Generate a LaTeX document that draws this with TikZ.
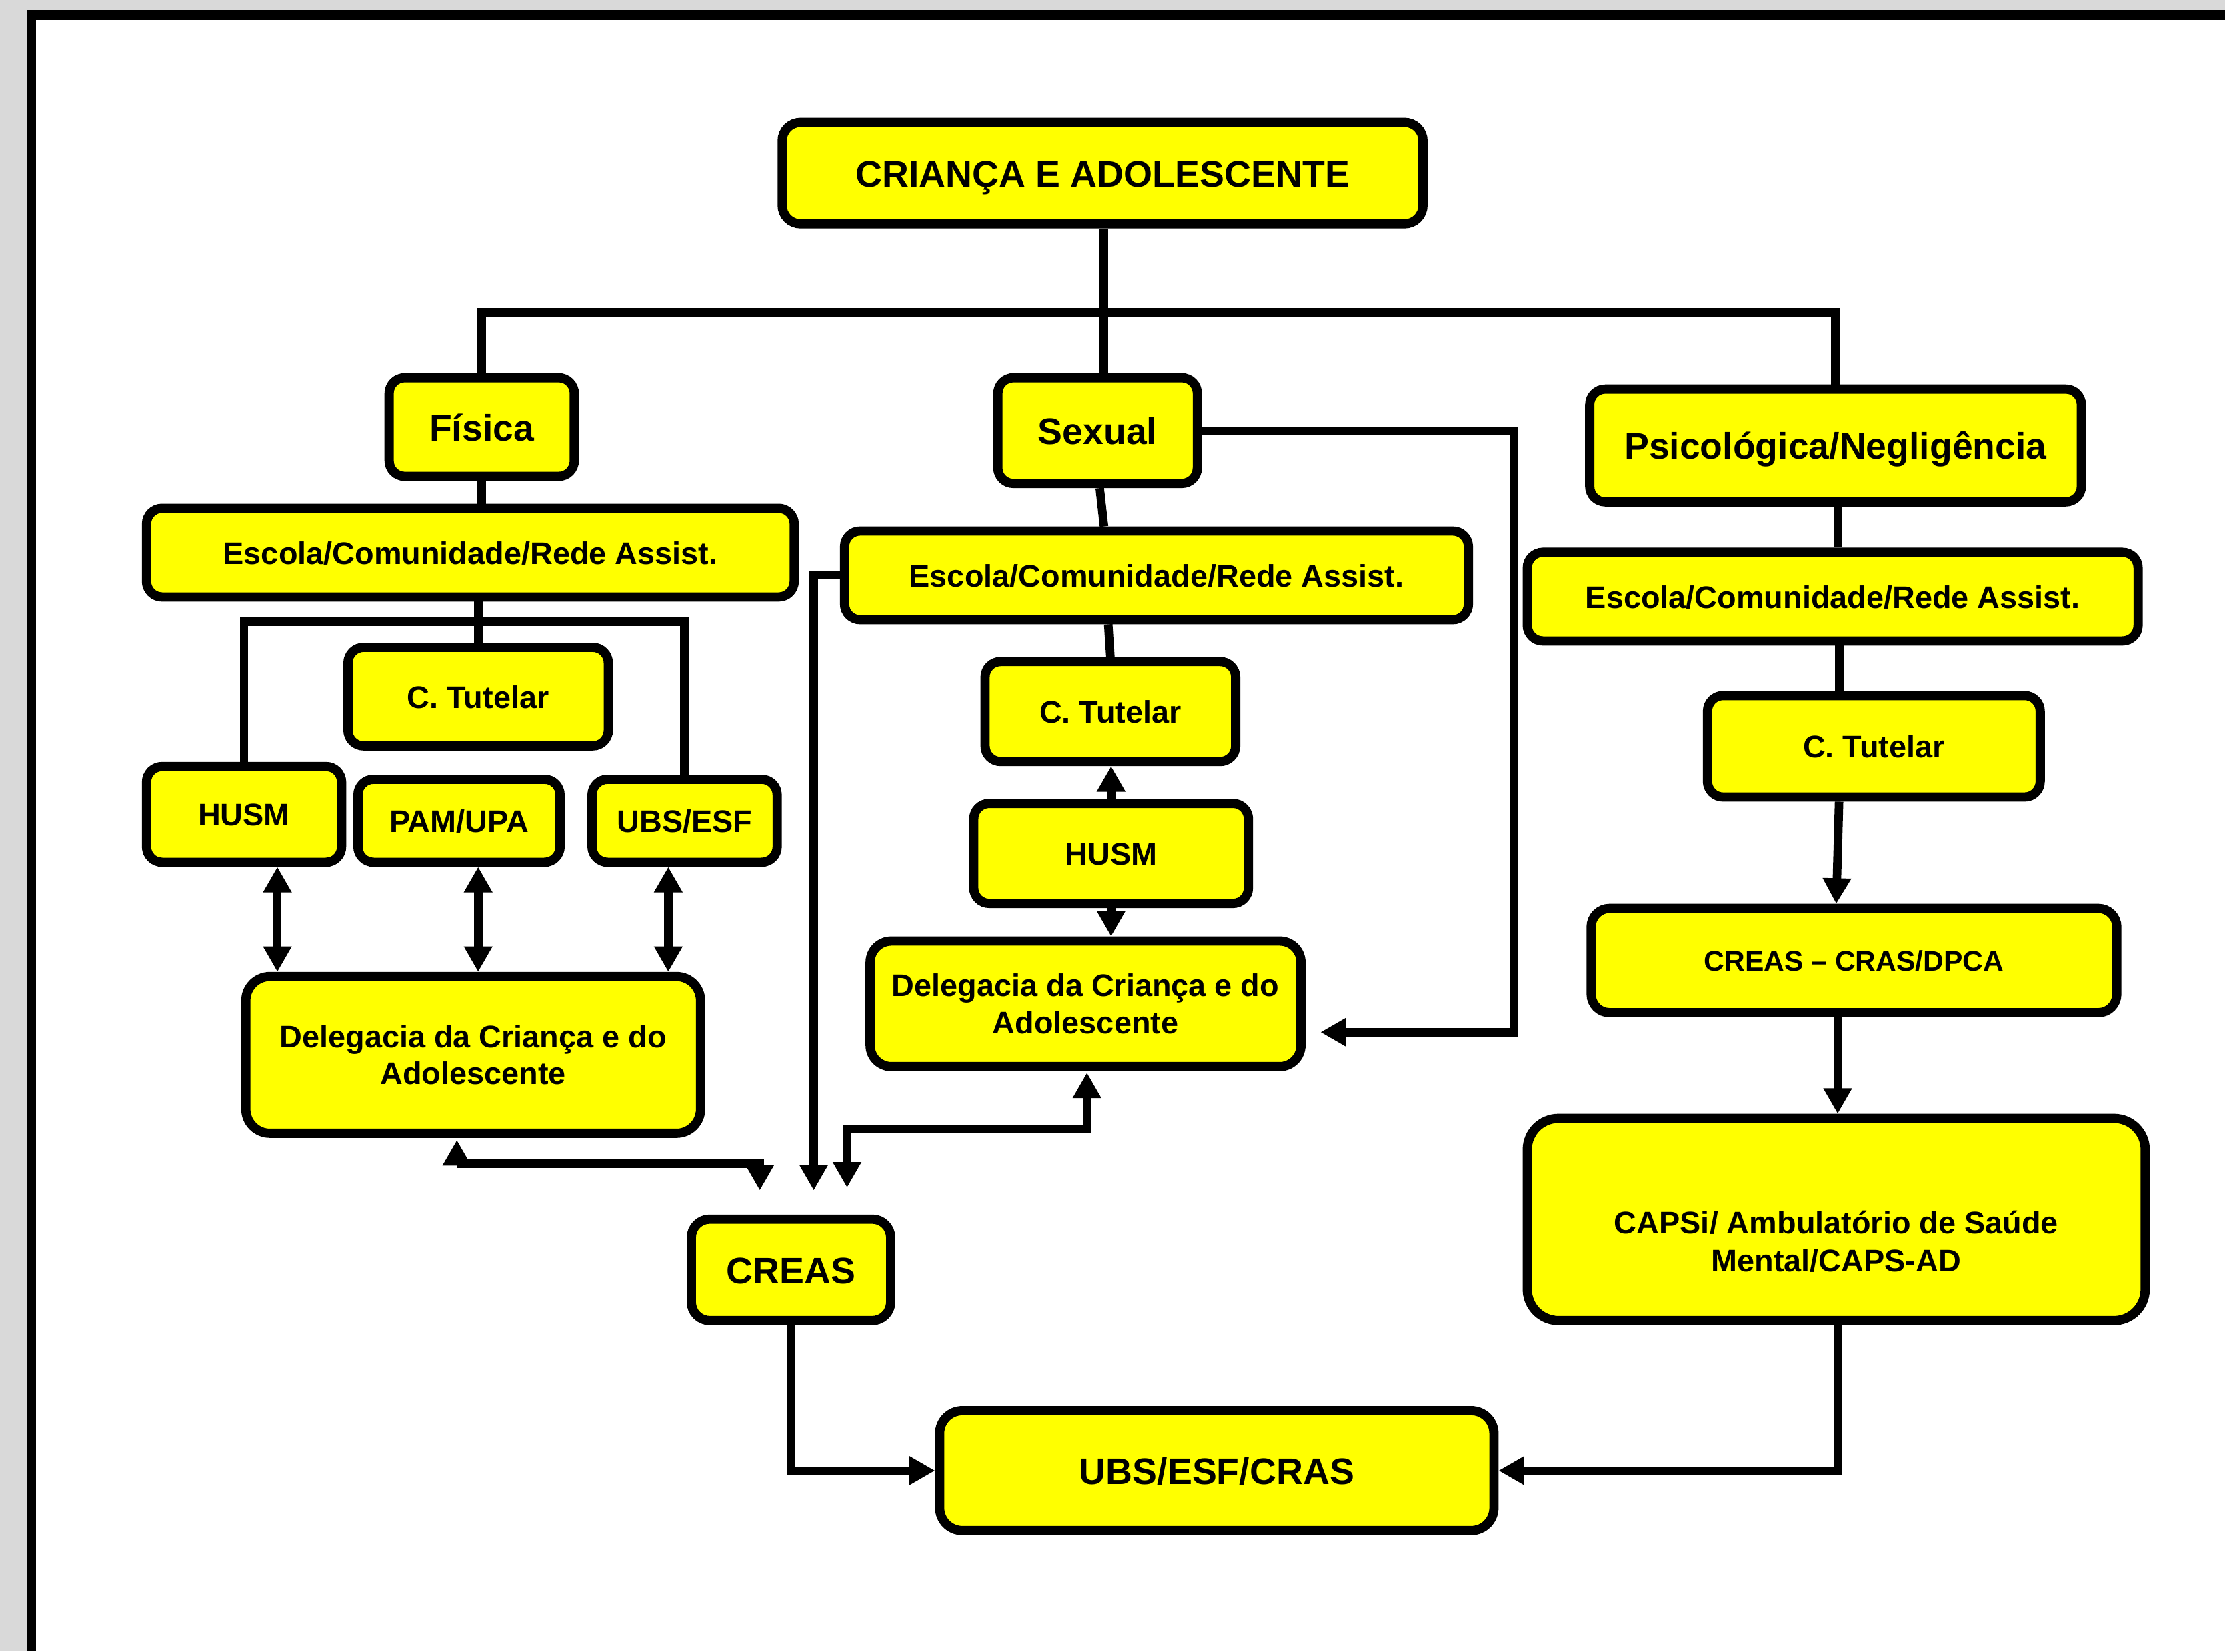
\documentclass[tikz,border=0pt]{standalone}
\usepackage{fontspec}
\setmainfont{Liberation Sans}
\usetikzlibrary{arrows.meta,calc}
\definecolor{yel}{HTML}{FFFF00}
\definecolor{bggray}{HTML}{D9D9D9}
\tikzset{
  box/.style={draw=black, fill=yel, line width=6.5pt, rounded corners=11pt, inner sep=0pt, align=center, text=black},
  t26/.style={font=\fontsize{26}{30}\selectfont\bfseries, text height=19.2pt, text depth=0pt},
  t22/.style={font=\fontsize{22}{26}\selectfont\bfseries, text height=16.2pt, text depth=0pt},
  t20/.style={font=\fontsize{20}{24}\selectfont\bfseries, text height=14.8pt, text depth=0pt},
  t22m/.style={font=\fontsize{22}{26}\selectfont\bfseries},
  conn/.style={draw=black, line width=6pt, line join=miter},
  arrowend/.style={-{Triangle[length=18pt,width=19pt]}},
  arrowboth/.style={{Triangle[length=18pt,width=19pt]}-{Triangle[length=18pt,width=19pt]}},
}
\begin{document}
\begin{tikzpicture}[x=1pt,y=-1pt]
\useasboundingbox (0,0) rectangle (1568,1164);
\fill[white] (0,0) rectangle (1568,1164);
\fill[bggray] (0,0) rectangle (1568,7);
\fill[bggray] (0,0) rectangle (19.4,1164);
\fill[black] (19.4,7) rectangle (1568,14);
\fill[black] (19.4,7) rectangle (25.5,1164);

% nodes
\node[box,t26,minimum width=451.5pt,minimum height=71.5pt,rounded corners=13pt] (title) at (777,122) {CRIANÇA E ADOLESCENTE};
\node[box,t26,minimum width=130.5pt,minimum height=69.5pt] (fisica) at (339.5,301) {Física};
\node[box,t26,minimum width=140.5pt,minimum height=74.5pt] (sexual) at (773.5,303.5) {Sexual};
\node[box,t26,minimum width=346.5pt,minimum height=79.5pt] (psico) at (1293.5,314) {Psicológica/Negligência};
\node[box,t22,minimum width=456.5pt,minimum height=62.5pt] (escL) at (331.5,389.5) {Escola/Comunidade/Rede Assist.};
\node[box,t22,minimum width=439.5pt,minimum height=62.5pt] (escM) at (815,405.5) {Escola/Comunidade/Rede Assist.};
\node[box,t22,minimum width=430.5pt,minimum height=62.5pt] (escR) at (1291.5,420.5) {Escola/Comunidade/Rede Assist.};
\node[box,t22,minimum width=183.5pt,minimum height=69.5pt] (tutL) at (337,491) {C. Tutelar};
\node[box,t22,minimum width=176.5pt,minimum height=70.5pt] (tutM) at (782.5,501.5) {C. Tutelar};
\node[box,t22,minimum width=234.5pt,minimum height=71.5pt] (tutR) at (1320.5,526) {C. Tutelar};
\node[box,t22,minimum width=137.5pt,minimum height=67.5pt] (husmL) at (172,574) {HUSM};
\node[box,t22,minimum width=142.5pt,minimum height=58.5pt] (pam) at (323.5,578.5) {PAM/UPA};
\node[box,t22,minimum width=130.5pt,minimum height=58.5pt] (ubsL) at (482.5,578.5) {UBS/ESF};
\node[box,t22,minimum width=193.5pt,minimum height=70.5pt] (husmM) at (783,601.5) {HUSM};
\node[box,t22m,minimum width=320.5pt,minimum height=110.5pt,rounded corners=17pt] (delL) at (333.5,743.5) {Delegacia da Criança e do\\Adolescente};
\node[box,t22m,minimum width=303.5pt,minimum height=88.5pt,rounded corners=15pt] (delM) at (765,707.5) {Delegacia da Criança e do\\Adolescente};
\node[box,t20,minimum width=370.5pt,minimum height=73.5pt,rounded corners=13pt] (creasD) at (1306.5,677) {CREAS – CRAS/DPCA};
\node[box,minimum width=435.5pt,minimum height=142.5pt,rounded corners=22pt] (capsi) at (1294,859.5) {};
\node[align=center,inner sep=0pt,font=\fontsize{22}{27}\selectfont\bfseries] (capsitext) at (1294,875) {CAPSi/ Ambulatório de Saúde\\Mental/CAPS-AD};
\node[box,t26,minimum width=140.5pt,minimum height=71.5pt,rounded corners=13pt] (creas) at (557.5,895) {CREAS};
\node[box,t26,minimum width=390.5pt,minimum height=84.5pt,rounded corners=16pt] (ubsC) at (857.5,1036.5) {UBS/ESF/CRAS};

\coordinate (bar) at (0,220);
\coordinate (brk) at (0,438);
\coordinate (sr) at (1067,0);

% top tree
\draw[conn] ($(title.south)+(1,0)$) -- ($(title.south |- sexual.north)+(1,0)$);
\draw[conn] (fisica.north) |- (bar -| psico.north) -- (psico.north);

% left column
\draw[conn] (fisica.south) -- (fisica.south |- escL.north);
\draw[conn] (tutL.north |- escL.south) -- (tutL.north);
\draw[conn] (husmL.north) |- (brk -| ubsL.north) -- (ubsL.north);
\draw[conn,arrowboth] ($(husmL.south)+(23.5,0)$) -- ($(husmL.south |- delL.north)+(23.5,0)$);
\draw[conn,arrowboth] ($(pam.south)+(13.5,0)$) -- ($(pam.south |- delL.north)+(13.5,0)$);
\draw[conn,arrowboth] ($(ubsL.south)+(-11.5,0)$) -- ($(ubsL.south |- delL.north)+(-11.5,0)$);
\draw[conn,arrowboth] ($(delL.south)+(-11.5,1.5)$) |- ($(creas.north)+(-22,-36)$) -- ($(creas.north)+(-22,-17)$);

% middle column
\draw[conn] ($(sexual.south)+(1.5,0)$) -- ($(sexual.south |- escM.north)+(4.5,0)$);
\draw[conn] ($(tutM.north |- escM.south)+(-1.5,0)$) -- (tutM.north);
\draw[conn,arrowend] (husmM.north) -- (husmM.north |- tutM.south);
\draw[conn,arrowend] (husmM.south) -- (husmM.south |- delM.north);
\draw[conn,arrowend] (sexual.east) -| ($(sr |- delM.east)+(0,20)$) -- ($(delM.east)+(10.5,20)$);
\draw[conn,arrowend] (escM.west) -| ($(creas.north)+(16,-17)$);
\draw[conn,arrowboth] ($(delM.south)+(1,1)$) |- ($(creas.north)+(39.5,-60)$) -- ($(creas.north)+(39.5,-19)$);

% right column
\draw[conn] ($(psico.south)+(1.5,0)$) -- ($(psico.south |- escR.north)+(1.5,0)$);
\draw[conn] ($(psico.south |- escR.south)+(2.5,0)$) -- ($(psico.south |- tutR.north)+(2.5,0)$);
\draw[conn,arrowend] ($(psico.south |- tutR.south)+(2.5,0)$) -- ($(psico.south |- creasD.north)+(0.5,0)$);
\draw[conn,arrowend] ($(psico.south |- creasD.south)+(1.5,0)$) -- ($(psico.south |- capsi.north)+(1.5,0)$);

% bottom
\draw[conn,arrowend] (creas.south) |- (ubsC.west);
\draw[conn,arrowend] ($(capsi.south)+(1,0)$) |- (ubsC.east);
\end{tikzpicture}
\end{document}
